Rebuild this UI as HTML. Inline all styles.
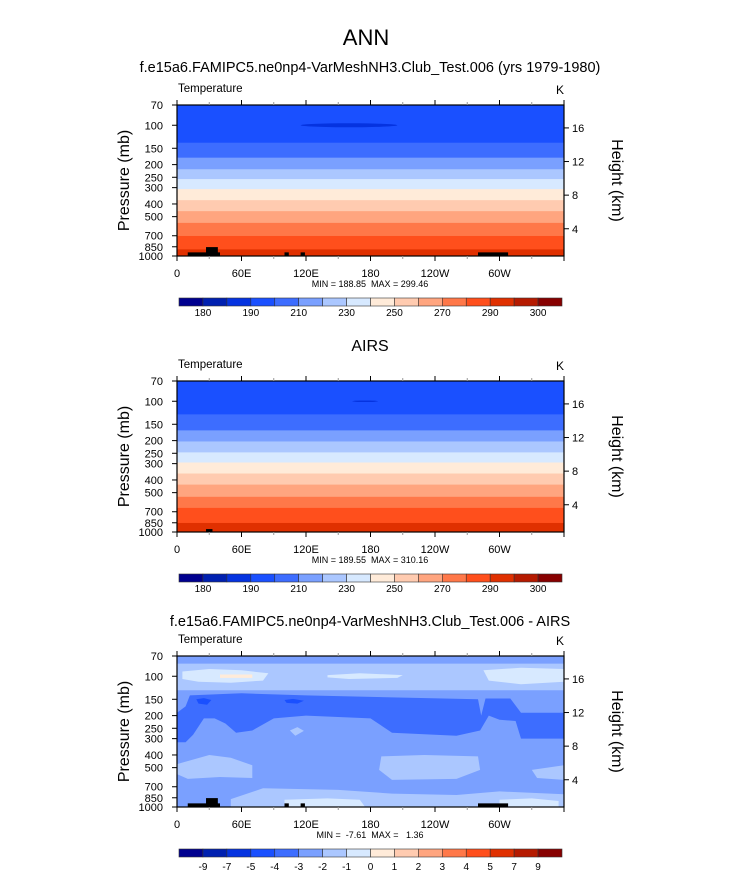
<!DOCTYPE html>
<html><head><meta charset="utf-8">
<style>
html,body{margin:0;padding:0;background:#fff;}
svg{display:block;font-family:"Liberation Sans",sans-serif;}
.pre{white-space:pre;}
</style></head>
<body>
<svg id="chart" width="733" height="872" viewBox="0 0 733 872" xmlns="http://www.w3.org/2000/svg">
<text x="366" y="45" font-size="22" text-anchor="middle">ANN</text>
<text x="370" y="72" font-size="14.5" text-anchor="middle">f.e15a6.FAMIPC5.ne0np4-VarMeshNH3.Club_Test.006 (yrs 1979-1980)</text>
<text x="370" y="351" font-size="16" text-anchor="middle">AIRS</text>
<text x="370" y="626" font-size="14.5" text-anchor="middle">f.e15a6.FAMIPC5.ne0np4-VarMeshNH3.Club_Test.006 - AIRS</text>
</svg>
<script>
// ---- data ----
const palette = ['#00008f','#0020b0','#0533e0','#1a50ff','#3d6dff','#7aa0ff','#abc7ff','#d7e9ff','#ffebd9','#ffcbb0','#ffa57f','#ff7849','#ff4f1c','#e03000','#b51a00','#870000'];
const tempLevelLabels = ['180','190','210','230','250','270','290','300'];
const tempLabelSlots = [1,3,5,7,9,11,13,15];
const diffLevelLabels = ['-9','-7','-5','-4','-3','-2','-1','0','1','2','3','4','5','7','9'];
const pressureTicks = [70,100,150,200,250,300,400,500,700,850,1000];
const heightTicks = [4,8,12,16];
const lonTicks = [0,60,120,180,240,300];
const lonTickLabels = ['0','60E','120E','180','120W','60W'];
// pressure where T crosses successive levels; band colour index starts at 3
const model_cross = [136,177,217,258,308,374,454,558,703,890];
const airs_cross = [126,167,203,246,294,357,434,538,654,853];
const bandStart = 3;
// land masks [lon0, lon1, pTop]
const model_land = [[10,40,938],[27,38,855],[100,104,938],[115,119,938],[280,308,938]];
const airs_land = [[27,33,950]];
// panel 3 difference regions: colour index, lon list, pressure list
const diff_regions = [
 {c:6, lon:[0,360,360,0], p:[80,80,128,128]},
 {c:7, lon:[5,30,60,85,80,50,20,5], p:[92,88,90,95,108,112,110,105]},
 {c:7, lon:[140,170,210,205,160,140], p:[98,95,98,103,105,102]},
 {c:7, lon:[285,320,360,360,320,290], p:[90,86,88,110,115,108]},
 {c:8, lon:[40,70,70,40], p:[97,97,103,103]},
 {c:4, lon:[0,8,12,60,120,200,280,283,287,310,320,360,360,320,315,300,290,282,260,200,180,120,90,70,55,45,35,25,15,8,0],
       p:[190,170,140,135,140,145,150,200,148,148,190,190,300,300,220,215,200,260,285,270,210,200,210,260,270,230,210,210,280,320,320]},
 {c:3, lon:[18,25,32,28,20], p:[150,147,152,165,162]},
 {c:3, lon:[100,108,118,112,102], p:[152,149,154,162,160]},
 {c:6, lon:[105,112,118,110], p:[260,245,262,285]},
 {c:6, lon:[0,30,50,70,70,40,10,0], p:[470,400,420,480,600,590,610,560]},
 {c:6, lon:[190,230,280,282,260,200,188], p:[410,400,410,520,610,620,520]},
 {c:6, lon:[330,360,360,335], p:[520,480,620,600]},
 {c:6, lon:[50,80,150,200,260,300,360,360,50], p:[870,720,740,790,810,760,800,1000,1000]},
 {c:7, lon:[100,140,170,175,100], p:[880,860,880,1000,1000]},
 {c:7, lon:[300,330,355,355,300], p:[880,860,900,1000,1000]}
];
const diff_land = [[10,40,938],[27,38,855],[100,104,938],[115,119,938],[280,308,938]];
const minmax = ['MIN = 188.85  MAX = 299.46','MIN = 189.55  MAX = 310.16','MIN =  -7.61  MAX =   1.36'];

// ---- drawing ----
const NS='http://www.w3.org/2000/svg';
const svg=document.getElementById('chart');
const X0=177,X1=564,H=151;
const tops=[105,381,656];
function mk(tag,attrs,parent){const e=document.createElementNS(NS,tag);for(const k in attrs)e.setAttribute(k,attrs[k]);(parent||svg).appendChild(e);return e;}
function xs(lon){return X0+(lon/360)*(X1-X0);}
function ysF(top){return p=>top+Math.log(p/70)/Math.log(1000/70)*H;}
function zToP(z){return Math.exp(7.02-0.148*z);}

function drawPanel(i,kind){
  const top=tops[i], ys=ysF(top);
  const g=mk('g',{});
  
  
  const clip=mk('clipPath',{id:'clip'+i},g);
  mk('rect',{x:X0,y:top,width:X1-X0,height:H},clip);
  const plot=mk('g',{'clip-path':'url(#clip'+i+')'},g);
  if(kind==='diff'){
    const bg=mk('rect',{x:X0,y:top,width:X1-X0,height:H,fill:palette[5]},plot);
    
    
    diff_regions.forEach((r,k)=>{
      const pts=r.lon.map((l,j)=>xs(l).toFixed(1)+','+ys(r.p[j]).toFixed(1)).join(' ');
      const pg=mk('polygon',{points:pts,fill:palette[r.c]},plot);
      
      
    });
  } else {
    const cross=kind==='model'?model_cross:airs_cross;
    const bounds=[70].concat(cross,[1000]);
    for(let k=0;k<bounds.length-1;k++){
      const r=mk('rect',{x:X0,y:ys(bounds[k]),width:X1-X0,height:ys(bounds[k+1])-ys(bounds[k])+0.5,fill:palette[bandStart+k]},plot);
      
      
    }
    const e=mk('ellipse',{cx:xs(kind==='model'?160:175),cy:ys(100),rx:kind==='model'?(xs(45)-xs(0)):(xs(12)-xs(0)),ry:kind==='model'?2:0.8,fill:palette[2]},plot);
    
    
  }
  const land=kind==='model'?model_land:kind==='airs'?airs_land:diff_land;
  land.forEach(l=>{
    const r=mk('rect',{x:xs(l[0]),y:ys(l[2]),width:xs(l[1])-xs(l[0]),height:ys(1000)-ys(l[2]),fill:'#000'},plot);
    
    
  });
  mk('rect',{x:X0,y:top,width:X1-X0,height:H,fill:'none',stroke:'#000','stroke-width':1.2},g);
  for(let lon=0;lon<=360;lon+=30){
    const maj=lon%60===0, L=maj?5:3, x=xs(lon);
    mk('line',{x1:x,x2:x,y1:top,y2:top-L,stroke:maj?'#000':'#999','stroke-width':1},g);
    mk('line',{x1:x,x2:x,y1:top+H,y2:top+H+L,stroke:maj?'#000':'#999','stroke-width':1},g);
  }
  lonTicks.forEach((lon,k)=>{
    const t=mk('text',{x:xs(lon),y:top+H+21,'font-size':11,'text-anchor':'middle'},g);
    t.textContent=lonTickLabels[k];
    
    
  });
  pressureTicks.forEach(p=>{
    const y=ys(p);
    mk('line',{x1:X0,x2:X0-5,y1:y,y2:y,stroke:'#000'},g);
    const t=mk('text',{x:X0-14,y:y+4,'font-size':11,'text-anchor':'end'},g);
    t.textContent=p;
    
    
  });
  heightTicks.forEach(z=>{
    const y=ys(zToP(z));
    mk('line',{x1:X1,x2:X1+5,y1:y,y2:y,stroke:'#000'},g);
    const t=mk('text',{x:X1+8,y:y+4,'font-size':11},g);
    t.textContent=z;
    
    
  });
  const tt=mk('text',{x:178,y:top-13,'font-size':11.5},g);tt.textContent='Temperature';
  
  const tk=mk('text',{x:556,y:top-11,'font-size':12},g);tk.textContent='K';
  
  const yl=mk('text',{x:0,y:0,'font-size':16,'text-anchor':'middle',transform:'translate(129,'+(top+H/2)+') rotate(-90)'},g);
  yl.textContent='Pressure (mb)';
  const hl=mk('text',{x:0,y:0,'font-size':16,'text-anchor':'middle',transform:'translate(612,'+(top+H/2)+') rotate(90)'},g);
  hl.textContent='Height (km)';
  const mm=mk('text',{x:370,y:top+H+31,'font-size':9,'text-anchor':'middle','class':'pre'},g);
  mm.textContent=minmax[i];
  const cy=top+193, cx0=179, cw=(562-179)/16;
  const cb=mk('g',{},g);
  
  
  palette.forEach((c,k)=>{
    const r=mk('rect',{x:cx0+k*cw,y:cy,width:cw,height:8,fill:c,stroke:'#333','stroke-width':0.6},cb);
    
    
  });
  if(kind==='diff'){
    diffLevelLabels.forEach((s,k)=>{
      const t=mk('text',{x:cx0+(k+1)*cw,y:cy+21,'font-size':10,'text-anchor':'middle'},cb);t.textContent=s;
      
    });
  } else {
    tempLevelLabels.forEach((s,k)=>{
      const t=mk('text',{x:cx0+tempLabelSlots[k]*cw,y:cy+18,'font-size':10,'text-anchor':'middle'},cb);t.textContent=s;
      
    });
  }
}
drawPanel(0,'model');
drawPanel(1,'airs');
drawPanel(2,'diff');
</script>
</body></html>
